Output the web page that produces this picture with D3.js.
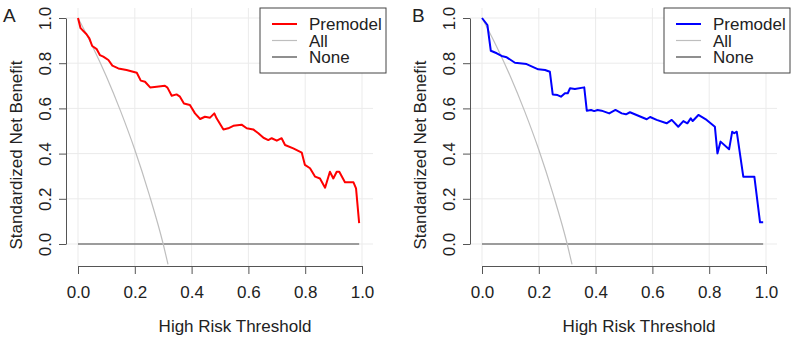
<!DOCTYPE html>
<html>
<head>
<meta charset="utf-8">
<script src="https://cdn.jsdelivr.net/npm/d3@7"></script>
<style>
  body { margin: 0; background: #fff; }
  text { font-family: "Liberation Sans", Arial, sans-serif; fill: #222; }
  .grid line { stroke: #ebebeb; stroke-width: 1; }
  .axis path, .axis line { stroke: #555; }
</style>
</head>
<body>
<div id="chart"></div>
<script>
// thresholds and standardized net benefit
const thrA = [0, 0.009, 0.03, 0.04, 0.05, 0.066, 0.077, 0.089, 0.107, 0.121, 0.142, 0.171, 0.207, 0.221, 0.236, 0.254, 0.277, 0.306, 0.315, 0.33, 0.347, 0.359, 0.373, 0.394, 0.412, 0.43, 0.447, 0.465, 0.48, 0.488, 0.512, 0.529, 0.547, 0.576, 0.594, 0.617, 0.635, 0.653, 0.67, 0.682, 0.70, 0.717, 0.729, 0.758, 0.788, 0.799, 0.817, 0.835, 0.852, 0.87, 0.887, 0.899, 0.911, 0.92, 0.94, 0.97, 0.979, 0.99];
const nbA = [1.0, 0.955, 0.928, 0.91, 0.876, 0.862, 0.836, 0.829, 0.814, 0.789, 0.777, 0.77, 0.758, 0.723, 0.718, 0.693, 0.696, 0.70, 0.692, 0.656, 0.662, 0.652, 0.622, 0.615, 0.578, 0.553, 0.563, 0.559, 0.578, 0.556, 0.507, 0.512, 0.523, 0.528, 0.512, 0.507, 0.49, 0.47, 0.46, 0.468, 0.457, 0.468, 0.438, 0.423, 0.404, 0.35, 0.335, 0.298, 0.29, 0.249, 0.32, 0.29, 0.32, 0.32, 0.273, 0.273, 0.246, 0.092];

const thrB = [0, 0.019, 0.031, 0.052, 0.069, 0.087, 0.116, 0.157, 0.198, 0.222, 0.239, 0.249, 0.266, 0.278, 0.292, 0.302, 0.31, 0.327, 0.36, 0.369, 0.384, 0.395, 0.407, 0.421, 0.448, 0.47, 0.492, 0.507, 0.521, 0.58, 0.592, 0.615, 0.65, 0.668, 0.691, 0.709, 0.723, 0.735, 0.742, 0.762, 0.791, 0.82, 0.829, 0.84, 0.87, 0.881, 0.888, 0.897, 0.92, 0.959, 0.979, 0.99];
const nbB = [1.0, 0.969, 0.855, 0.844, 0.832, 0.826, 0.802, 0.796, 0.773, 0.77, 0.762, 0.662, 0.659, 0.652, 0.667, 0.667, 0.689, 0.686, 0.693, 0.59, 0.593, 0.588, 0.593, 0.59, 0.578, 0.593, 0.578, 0.574, 0.583, 0.552, 0.562, 0.549, 0.534, 0.549, 0.519, 0.544, 0.534, 0.556, 0.544, 0.571, 0.549, 0.519, 0.401, 0.453, 0.419, 0.497, 0.49, 0.497, 0.298, 0.298, 0.096, 0.096];

// treat-all curve (same in both panels)
const thrAll = [0, 0.05, 0.1, 0.15, 0.2, 0.25, 0.3, 0.317];
const nbAll = [1.0, 0.877, 0.741, 0.588, 0.417, 0.222, 0.0, -0.09];

// treat-none line
const thrNone = [0, 0.99];
const nbNone = [0, 0];

const xTicks = [0, 0.2, 0.4, 0.6, 0.8, 1.0];
const yTicks = [0, 0.2, 0.4, 0.6, 0.8, 1.0];
const legendNames = ["Premodel", "All", "None"];

const panels = [
  { label: "A", dx: 0, thr: thrA, nb: nbA, color: "#ff0000" },
  { label: "B", dx: 404, thr: thrB, nb: nbB, color: "#0000ff" }
];

const svg = d3.select("#chart").append("svg")
  .attr("width", 794)
  .attr("height", 339);

const x = d3.scaleLinear().domain([0, 1]).range([78, 362]);
const y = d3.scaleLinear().domain([0, 1]).range([244, 18]);

const plotLeft = 66, plotRight = 373, plotTop = 8, plotBottom = 266;
const fs = "17px";

const line = d3.line().x(d => x(d[0])).y(d => y(d[1]));

panels.forEach(p => {
  const g = svg.append("g").attr("transform", `translate(${p.dx},0)`);

  // grid
  const grid = g.append("g").attr("class", "grid");
  grid.selectAll("line.h")
    .data(yTicks)
    .join("line")
    .attr("class", "h")
    .attr("x1", plotLeft).attr("x2", plotRight)
    .attr("y1", d => y(d)).attr("y2", d => y(d));
  grid.selectAll("line.v")
    .data(xTicks)
    .join("line")
    .attr("class", "v")
    .attr("x1", d => x(d)).attr("x2", d => x(d))
    .attr("y1", plotTop).attr("y2", plotBottom);

  // axes
  const xAxis = g.append("g")
    .attr("class", "axis")
    .attr("transform", `translate(0,${plotBottom})`)
    .call(d3.axisBottom(x).tickValues(xTicks).tickFormat(d3.format(".1f")).tickSize(8).tickSizeOuter(0));
  xAxis.selectAll("text")
    .attr("y", 32).attr("dy", 0)
    .style("font-size", fs);

  const yAxis = g.append("g")
    .attr("class", "axis")
    .attr("transform", `translate(${plotLeft},0)`)
    .call(d3.axisLeft(y).tickValues(yTicks).tickFormat(d3.format(".1f")).tickSize(7).tickSizeOuter(0));
  yAxis.selectAll("text")
    .attr("transform", "rotate(-90)")
    .attr("x", 0).attr("y", -15).attr("dy", 0)
    .attr("text-anchor", "middle")
    .style("font-size", fs);

  g.selectAll(".axis text").style("fill", "#222");

  // axis titles
  g.append("text")
    .attr("x", 235)
    .attr("y", 332)
    .attr("text-anchor", "middle")
    .style("font-size", fs)
    .text("High Risk Threshold");

  g.append("text")
    .attr("transform", "translate(22,155) rotate(-90)")
    .attr("text-anchor", "middle")
    .style("font-size", fs)
    .text("Standardized Net Benefit");

  // panel letter
  g.append("text")
    .attr("x", p.dx ? 8 : 3)
    .attr("y", 22)
    .style("font-size", "19px")
    .text(p.label);

  // curves
  g.append("path")
    .datum(d3.zip(thrNone, nbNone))
    .attr("d", line)
    .attr("fill", "none")
    .attr("stroke", "#444")
    .attr("stroke-width", 1.2);

  g.append("path")
    .datum(d3.zip(thrAll, nbAll))
    .attr("d", line.curve(d3.curveMonotoneX))
    .attr("fill", "none")
    .attr("stroke", "#bebebe")
    .attr("stroke-width", 1.2);
  line.curve(d3.curveLinear);

  g.append("path")
    .datum(d3.zip(p.thr, p.nb))
    .attr("d", line)
    .attr("fill", "none")
    .attr("stroke", p.color)
    .attr("stroke-width", 2)
    .attr("stroke-linejoin", "round");

  // legend
  const leg = g.append("g").attr("transform", "translate(260,8)");
  leg.append("rect")
    .attr("width", 126).attr("height", 65)
    .attr("fill", "#fff")
    .attr("stroke", "#444");
  const legColors = [p.color, "#bebebe", "#444"];
  const legWidths = [2, 1.2, 1.2];
  const items = leg.selectAll("g.item")
    .data(legendNames)
    .join("g")
    .attr("class", "item")
    .attr("transform", (d, i) => `translate(0,${16 + i * 16.5})`);
  items.append("line")
    .attr("x1", 12).attr("x2", 37)
    .attr("stroke", (d, i) => legColors[i])
    .attr("stroke-width", (d, i) => legWidths[i]);
  items.append("text")
    .attr("x", 49).attr("y", 6)
    .style("font-size", fs)
    .text(d => d);
});
</script>
</body>
</html>
